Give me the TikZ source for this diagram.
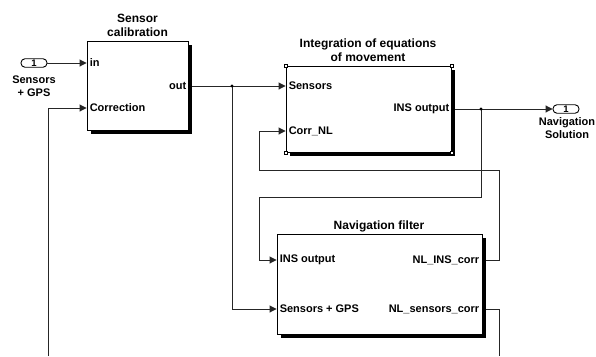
\documentclass[tikz,border=0pt]{standalone}
\usepackage{fontspec}
\setmainfont{Liberation Sans}
\usetikzlibrary{arrows.meta,shadows,calc}

\begin{document}
\begin{tikzpicture}[x=1pt,y=-1pt,
  wire/.style={line width=0.9pt, draw=black!85},
  sig/.style={wire, -{Triangle[length=7pt,width=7pt]}},
  block/.style={draw, line width=0.9pt, fill=white, inner sep=0pt,
    drop shadow={shadow xshift=4pt, shadow yshift=-4pt, fill=black, opacity=1}},
  portlbl/.style={inner sep=0pt, font=\fontsize{11}{13}\selectfont\bfseries},
  title/.style={inner sep=0pt, align=center, font=\fontsize{12}{14}\selectfont\bfseries},
  extlbl/.style={inner sep=0pt, align=center, font=\fontsize{11}{13}\selectfont\bfseries},
  ioport/.style={draw, line width=0.9pt, rounded corners=4pt, minimum width=26pt,
    minimum height=8.5pt, inner sep=0pt, font=\fontsize{9.5}{9.5}\selectfont\bfseries},
  handle/.style={draw, fill=white, line width=0.5pt, minimum size=3pt, inner sep=0pt},
  junct/.style={fill=black}
]
\useasboundingbox[fill=white] (0,0) rectangle (596,356);

% blocks
\node[block, minimum width=101pt, minimum height=89pt] (cal) at (137.5,85.5) {};
\node[block, minimum width=165pt, minimum height=86pt] (ins) at (368.5,109) {};
\node[block, minimum width=205pt, minimum height=100pt] (nav) at (379.5,284) {};

% selection handles on the integration block
\foreach \c in {north west, north east, south west, south east}
  \node[handle] at (ins.\c) {};

% block titles
\node[title] (calT) at (137.5,25) {Sensor\\calibration};
\node[title] (insT) at (368,50) {Integration of equations\\of movement};
\node[title] (navT) at (379,226) {Navigation filter};

% port positions
\coordinate (calIn) at (cal.west |- 0,63);
\coordinate (calCorr) at (cal.west |- 0,108);
\coordinate (calOut) at (cal.east |- 0,86);
\coordinate (insSens) at (ins.west |- 0,86);
\coordinate (insCorr) at (ins.west |- 0,131);
\coordinate (insOut) at (ins.east |- 0,109);
\coordinate (navIns) at (nav.west |- 0,260);
\coordinate (navSens) at (nav.west |- 0,309);
\coordinate (navInsCorr) at (nav.east |- 0,260);
\coordinate (navSensCorr) at (nav.east |- 0,309);

% port labels
\node[portlbl, anchor=west] at ([xshift=3pt]calIn) {in};
\node[portlbl, anchor=west] at ([xshift=3pt]calCorr) {Correction};
\node[portlbl, anchor=east] at ([xshift=-2pt]calOut) {out};
\node[portlbl, anchor=west] at ([xshift=3pt]insSens) {Sensors};
\node[portlbl, anchor=west] at ([xshift=3pt]insCorr) {Corr\_NL};
\node[portlbl, anchor=east] at ([xshift=-2pt]insOut) {INS output};
\node[portlbl, anchor=west] at ([xshift=3pt]navIns) {INS output};
\node[portlbl, anchor=west] at ([xshift=3pt]navSens) {Sensors + GPS};
\node[portlbl, anchor=east] at ([xshift=-3pt]navInsCorr) {NL\_INS\_corr};
\node[portlbl, anchor=east] at ([xshift=-3pt]navSensCorr) {NL\_sensors\_corr};

% external ports
\node[ioport] (inp) at (34,63) {1};
\node[extlbl] (inpL) at (34,86) {Sensors\\+ GPS};
\node[ioport] (outp) at (566,109) {1};
\node[extlbl] (outpL) at (567,128) {Navigation\\Solution};

% routing points
\coordinate (j1) at (232,86);
\coordinate (j2) at (481,109);
\coordinate (fbTop) at (499,170);
\coordinate (fbLeft) at (259,131);
\coordinate (loopA) at (259,197);
\coordinate (downR) at (499,356);
\coordinate (upL) at (48,356);

% signal lines
\draw[sig] (inp.east) -- (calIn);
\draw[sig] ([xshift=4pt]calOut) -- (insSens);
\draw[sig] (j1) |- (navSens);
\draw[sig] ([xshift=4pt]insOut) -- (outp.west);
\draw[sig] (j2) |- (loopA) |- (navIns);
\draw[sig] ([xshift=4pt]navInsCorr) -| (fbTop) -| (fbLeft) -- (insCorr);
\draw[wire] ([xshift=4pt]navSensCorr) -| (downR);
\draw[sig] (upL) |- (calCorr);

% branch points
\fill[junct] (j1) circle (1.6pt);
\fill[junct] (j2) circle (1.6pt);
\end{tikzpicture}
\end{document}
